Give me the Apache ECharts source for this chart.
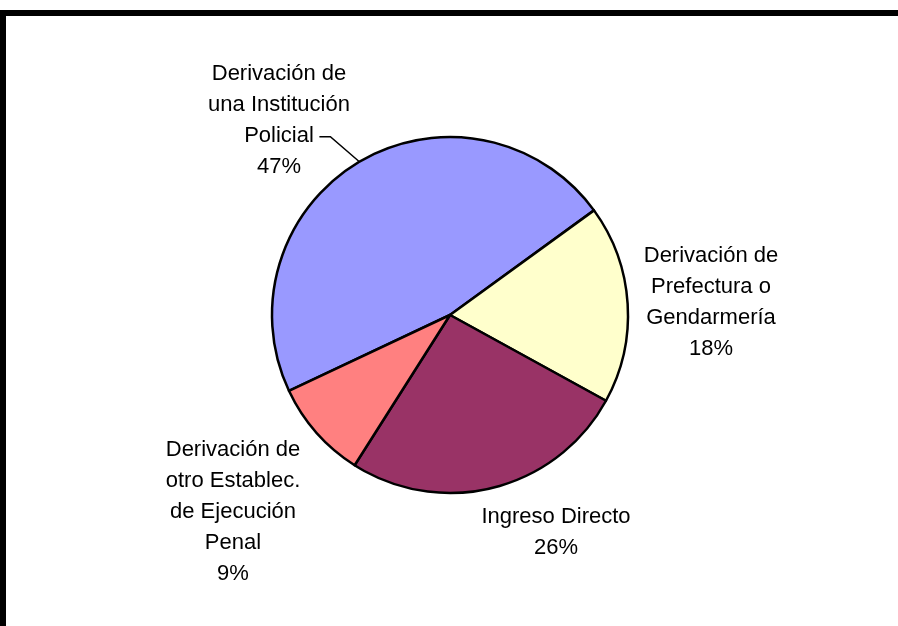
<!DOCTYPE html>
<html>
<head>
<meta charset="utf-8">
<script src="https://cdn.jsdelivr.net/npm/echarts@6/dist/echarts.min.js"></script>
<style>
  html, body { margin: 0; padding: 0; background: #fff; }
  #chart { width: 898px; height: 626px; }
  .frame-top { position: absolute; left: 0; top: 10px; width: 898px; height: 6px; background: #000; }
  .frame-left { position: absolute; left: 0; top: 10px; width: 6px; height: 616px; background: #000; }
</style>
</head>
<body>
<div id="chart"></div>
<div class="frame-top"></div>
<div class="frame-left"></div>
<script>
// categories and values (percent)
const categories = [
  'Derivación de\nuna Institución\nPolicial',
  'Derivación de\nPrefectura o\nGendarmería',
  'Ingreso Directo',
  'Derivación de\notro Establec.\nde Ejecución\nPenal'
]
const values = [47, 18, 26, 9]
const colors = ['#9999ff', '#ffffcc', '#993366', '#ff8080']

// where each label block sits (center of the text block)
const labelPos = [[279, 120], [711, 302], [556, 532], [233, 512]]

const chart = echarts.init(document.getElementById('chart'))
chart.setOption({
  animation: false,
  color: colors,
  series: [
    {
      type: 'pie',
      center: [450, 315],
      radius: [0, 178],
      startAngle: 205.2,
      avoidLabelOverlap: false,
      data: categories.map((name, i) => ({
        name: name,
        value: values[i],
        labelLine: { show: i === 0 }
      })),
      itemStyle: {
        borderColor: '#000',
        borderWidth: 2.5
      },
      label: {
        show: true,
        position: 'outside',
        formatter: '{b}\n{c}%',
        color: '#000',
        fontFamily: 'Liberation Sans, Arial, sans-serif',
        fontSize: 22,
        lineHeight: 31,
        align: 'center'
      },
      labelLine: {
        lineStyle: { color: '#000', width: 1.5 }
      },
      labelLayout: function (params) {
        const i = params.dataIndex
        const out = {
          x: labelPos[i][0],
          y: labelPos[i][1],
          align: 'center',
          verticalAlign: 'middle'
        }
        if (i === 0 && params.labelLinePoints) {
          const p = params.labelLinePoints[0]
          out.labelLinePoints = [p, [p[0] - 29, p[1] - 25], [p[0] - 40, p[1] - 25]]
        }
        return out
      }
    }
  ]
})
</script>
</body>
</html>
